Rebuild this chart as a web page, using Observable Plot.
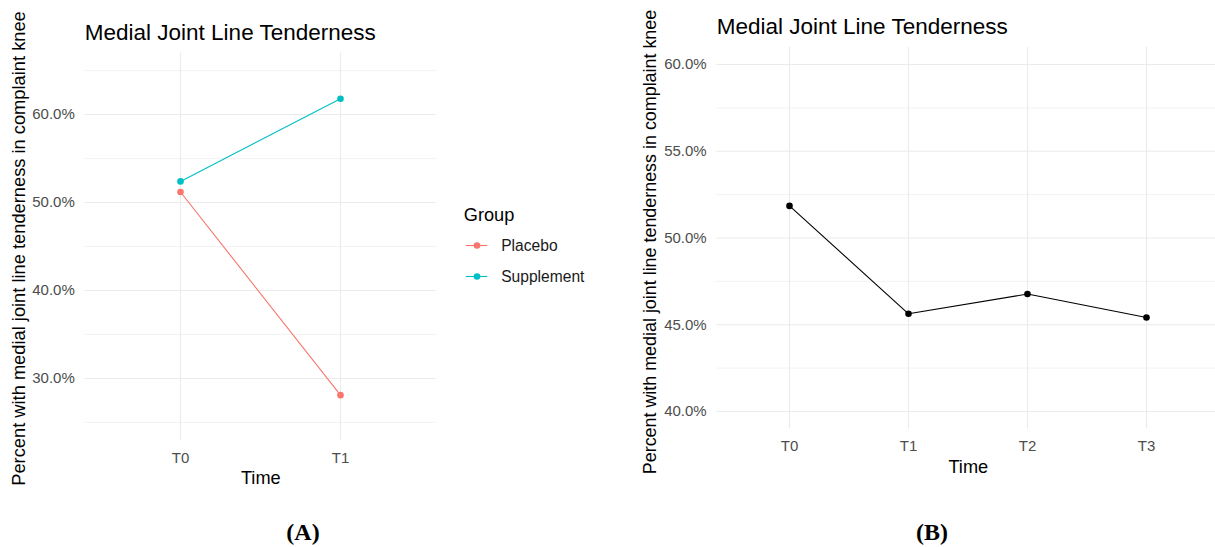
<!DOCTYPE html>
<html>
<head>
<meta charset="utf-8">
<script src="https://cdn.jsdelivr.net/npm/d3@7"></script>
<script src="https://cdn.jsdelivr.net/npm/@observablehq/plot@0.6"></script>
<style>
  html, body { margin: 0; padding: 0; background: #fff; }
  body { position: relative; width: 1215px; height: 547px; overflow: hidden;
         font-family: "Liberation Sans", Arial, sans-serif; }
  .abs { position: absolute; }
  .abs svg { max-width: none !important; display: block; }
  .caption { position: absolute; top: 520px; transform: translateX(-50%);
             font-family: "Liberation Serif", "Times New Roman", serif; font-weight: bold;
             font-size: 24px; line-height: 24px; color: #000; white-space: nowrap; }
</style>
</head>
<body>
<div id="panelA" class="abs" style="left:0;top:0;width:445px;height:500px"></div>
<div id="legendA" class="abs" style="left:440px;top:190px;width:180px;height:110px"></div>
<div id="panelB" class="abs" style="left:620px;top:0;width:610px;height:500px"></div>
<div class="caption" style="left:303px">(A)</div>
<div class="caption" style="left:932px">(B)</div>
<script>
// Panel A: two groups measured at baseline and follow-up
const timesA = ["T0", "T1"];
const groups = ["Placebo", "Supplement"];
const groupColors = ["#F8766D", "#00BFC4"];
const placebo = [51.2, 28.1];
const supplement = [52.4, 61.8];
const ticksA = [30, 40, 50, 60];
const minorA = [25, 35, 45, 55, 65];
const domainA = [23, 67];

// Panel B: whole cohort over four visits
const timesB = ["T0", "T1", "T2", "T3"];
const cohort = [51.85, 45.63, 46.77, 45.42];
const ticksB = [40, 45, 50, 55, 60];
const minorB = [42.5, 47.5, 52.5, 57.5];
const domainB = [39, 61];

const chartTitle = "Medial Joint Line Tenderness";
const xTitle = "Time";
const yTitle = "Percent with medial joint line tenderness in complaint knee";

const rowsA = [
  ...timesA.map((t, i) => ({time: t, value: placebo[i], group: groups[0]})),
  ...timesA.map((t, i) => ({time: t, value: supplement[i], group: groups[1]}))
];
const rowsB = timesB.map((t, i) => ({time: t, value: cohort[i]}));

const FONT = "'Liberation Sans', Arial, sans-serif";
const GRID = "#EBEBEB";
const pct = d => d.toFixed(1) + "%";

// Grid, axes and titles shared by both panels (ggplot-style minimal theme)
function panelMarks(times, ticks, minor, yTitleSize, yTitleShift) {
  return [
    Plot.gridY(minor, {stroke: GRID, strokeOpacity: 1, strokeWidth: 0.6}),
    Plot.gridY(ticks, {stroke: GRID, strokeOpacity: 1, strokeWidth: 1.1}),
    Plot.gridX(times, {stroke: GRID, strokeOpacity: 1, strokeWidth: 1.1}),
    Plot.axisY(ticks, {tickSize: 0, tickPadding: 10, tickFormat: pct, fontSize: 15, fill: "#4D4D4D", label: null}),
    Plot.axisX(times, {tickSize: 0, tickPadding: 12, fontSize: 15, fill: "#4D4D4D", label: null}),
    Plot.text([chartTitle], {frameAnchor: "top-left", textAnchor: "start", lineAnchor: "bottom", dy: -13.3, fontSize: 22.5, fill: "#000"}),
    Plot.text([xTitle], {frameAnchor: "bottom", textAnchor: "middle", lineAnchor: "middle", dy: 38.3, fontSize: 18.2, fill: "#000"}),
    Plot.text([yTitle], {frameAnchor: "left", textAnchor: "middle", lineAnchor: "middle", rotate: -90, dx: -66, dy: yTitleShift, fontSize: yTitleSize, fill: "#000"})
  ];
}

const plotA = Plot.plot({
  width: 445, height: 500,
  marginLeft: 84.3, marginRight: 8.7, marginTop: 52.5, marginBottom: 60.5,
  style: {fontFamily: FONT, background: "transparent", overflow: "visible"},
  x: {type: "point", domain: timesA, padding: 0.6},
  y: {domain: domainA},
  color: {domain: groups, range: groupColors},
  marks: [
    ...panelMarks(timesA, ticksA, minorA, 18.3, 2),
    Plot.line(rowsA, {x: "time", y: "value", z: "group", stroke: "group", strokeWidth: 1.1}),
    Plot.dot(rowsA, {x: "time", y: "value", fill: "group", r: 3.3})
  ]
});
document.getElementById("panelA").append(plotA);

// Legend for panel A, drawn with its own point scale for the groups
const legend = Plot.plot({
  width: 180, height: 110,
  marginLeft: 25.7, marginRight: 132.7, marginTop: 55, marginBottom: 24,
  style: {fontFamily: FONT, background: "transparent", overflow: "visible"},
  x: {domain: [0, 1], axis: null},
  y: {type: "point", domain: groups, padding: 0, axis: null},
  color: {domain: groups, range: groupColors},
  marks: [
    Plot.ruleY(groups, {y: d => d, x1: 0, x2: 1, stroke: d => d, strokeWidth: 1.1}),
    Plot.dot(groups, {x: 0.5, y: d => d, fill: d => d, r: 3.3}),
    Plot.text(groups, {x: 1, y: d => d, dx: 13.4, textAnchor: "start", lineAnchor: "middle", fontSize: 15.6, fill: "#1A1A1A"}),
    Plot.text(["Group"], {frameAnchor: "top-left", dx: -2.4, dy: -30, textAnchor: "start", lineAnchor: "middle", fontSize: 18.2, fill: "#000"})
  ]
});
document.getElementById("legendA").append(legend);

const plotB = Plot.plot({
  width: 610, height: 500,
  marginLeft: 96.2, marginRight: 10.6, marginTop: 46.7, marginBottom: 71.7,
  style: {fontFamily: FONT, background: "transparent", overflow: "visible"},
  x: {type: "point", domain: timesB, padding: 0.6},
  y: {domain: domainB},
  marks: [
    ...panelMarks(timesB, ticksB, minorB, 17.9, 4),
    Plot.line(rowsB, {x: "time", y: "value", stroke: "#000", strokeWidth: 1.1}),
    Plot.dot(rowsB, {x: "time", y: "value", fill: "#000", r: 3.3})
  ]
});
document.getElementById("panelB").append(plotB);
</script>
</body>
</html>
